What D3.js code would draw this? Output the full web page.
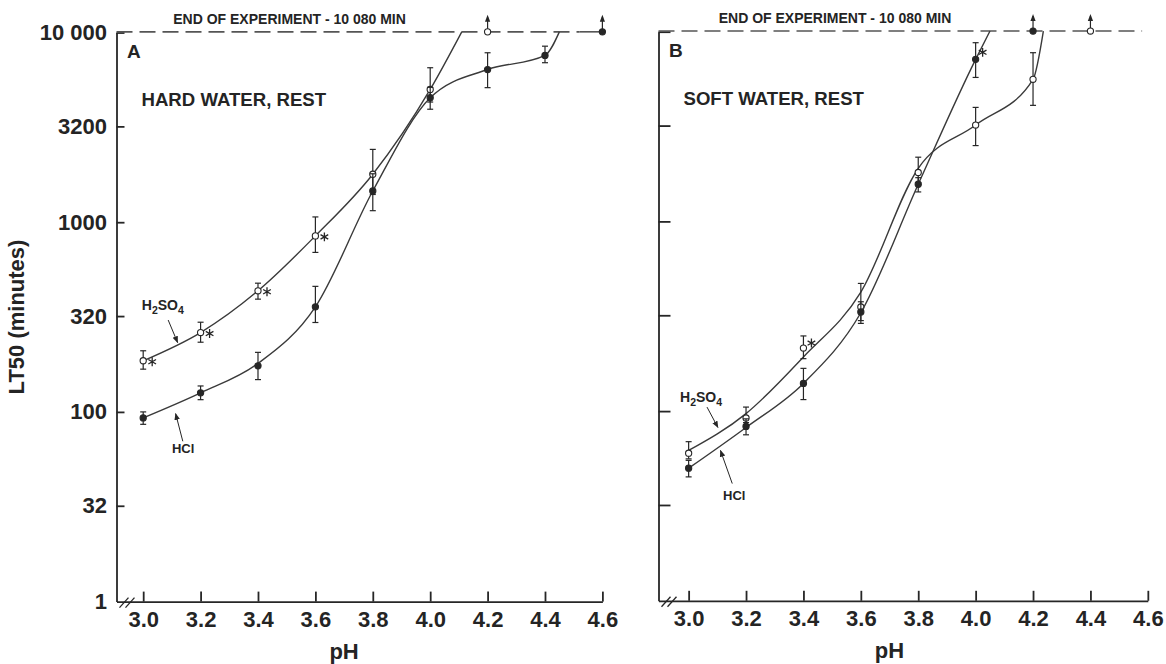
<!DOCTYPE html>
<html>
<head>
<meta charset="utf-8">
<script src="https://cdn.jsdelivr.net/npm/d3@7"></script>
<style>
  body { margin: 0; background: #fff; }
  svg text { font-family: 'Liberation Sans', Arial, Helvetica, sans-serif; font-weight: bold; fill: #242424; }
</style>
</head>
<body>
<svg id="chart" width="1166" height="664"></svg>
<script>
// ---- data ----
const phTicks = [3.0, 3.2, 3.4, 3.6, 3.8, 4.0, 4.2, 4.4, 4.6]
const lt50Ticks = [32, 100, 320, 1000, 3200, 10000]
const lt50TickLabels = ['32', '100', '320', '1000', '3200', '10 000']
const endOfExperiment = 10080

// A: hard water, rest
const hardH2so4Ph = [3.0, 3.2, 3.4, 3.6, 3.8, 4.0]
const hardH2so4 = [186, 262, 435, 847, 1790, 5010]
const hardH2so4Lo = [168, 233, 393, 693, 1400, 4300]
const hardH2so4Hi = [210, 297, 477, 1066, 2420, 6520]
const hardH2so4Fit = [186, 262, 435, 847, 1790, 5010]   // hand-drawn curve
const hardH2so4Star = [3.0, 3.2, 3.4, 3.6]
const hardH2so4Top = 4.11        // curve meets end of experiment
const hardH2so4Survived = [4.2]

const hardHclPh = [3.0, 3.2, 3.4, 3.6, 3.8, 4.0, 4.2, 4.4]
const hardHcl = [93, 126, 175, 358, 1460, 4530, 6380, 7570]
const hardHclLo = [86, 116, 148, 296, 1150, 3940, 5120, 6930]
const hardHclHi = [100, 137, 206, 459, 1800, 5140, 7820, 8470]
const hardHclFit = [93, 126, 180, 358, 1460, 4530, 6380, 7570]
const hardHclStar = []
const hardHclTop = 4.45
const hardHclSurvived = [4.6]

// B: soft water, rest
const softH2so4Ph = [3.0, 3.2, 3.4, 3.6, 3.8, 4.0, 4.2]
const softH2so4 = [60, 92, 215, 354, 1810, 3220, 5610]
const softH2so4Lo = [56, 87, 189, 300, 1600, 2510, 4090]
const softH2so4Hi = [69, 105, 249, 471, 2180, 3990, 7750]
const softH2so4Fit = [62, 97, 193, 424, 1905, 3220, 5610]
const softH2so4Star = [3.4]
const softH2so4Top = 4.236
const softH2so4Survived = [4.4]

const softHclPh = [3.0, 3.2, 3.4, 3.6, 3.8, 4.0]
const softHcl = [50, 83, 140, 333, 1570, 7150]
const softHclLo = [45, 75, 115, 290, 1430, 5740]
const softHclHi = [55, 91, 168, 377, 1700, 8750]
const softHclFit = [50, 82, 140, 330, 1570, 7150]
const softHclStar = [4.0]
const softHclTop = 4.05
const softHclSurvived = [4.2]

// ---- drawing ----
const ink = '#262626'
const lineInk = '#3a3a3a'
const svg = d3.select('#chart')

svg.append('defs').append('marker')
  .attr('id', 'head')
  .attr('viewBox', '0 0 10 10')
  .attr('refX', 9).attr('refY', 5)
  .attr('markerWidth', 7).attr('markerHeight', 7)
  .attr('markerUnits', 'userSpaceOnUse')
  .attr('orient', 'auto')
  .append('path').attr('d', 'M0,1 L10,5 L0,9 Z').attr('fill', ink)

let makeSeries = (ph, mean, lo, hi, fit, stars, top, survived, filled, starDx, starDy) => {
  return { ph, mean, lo, hi, fit, stars, top, survived, filled, starDx, starDy }
}

let chemLabel = (g, x, y, isH2so4) => {
  let t = g.append('text').attr('x', x).attr('y', y).attr('font-size', 14)
  if (isH2so4) {
    t.append('tspan').text('H')
    t.append('tspan').text('2').attr('font-size', 10.5).attr('dy', 4)
    t.append('tspan').text('SO').attr('dy', -4)
    t.append('tspan').text('4').attr('font-size', 10.5).attr('dy', 4)
  } else {
    t.attr('font-size', 13).text('HCl')
  }
}

let drawPanel = (p) => {
  let x = d3.scaleLinear().domain([p.phStart, 4.6]).range([p.left, p.left + (4.6 - p.phStart) * 287])
  let y = d3.scaleLog().domain([10, 10000]).range([p.bottom, p.top])
  let g = svg.append('g')

  // axes
  let yAxis = d3.axisLeft(y)
    .tickValues(lt50Ticks)
    .tickSizeInner(-p.tickLen)
    .tickSizeOuter(0)
    .tickPadding(9.5)
    .tickFormat((d, i) => p.showLabels ? lt50TickLabels[i] : '')
  let yg = g.append('g').attr('transform', 'translate(' + p.left + ',0)').call(yAxis)

  let xAxis = d3.axisBottom(x)
    .tickValues(phTicks)
    .tickSizeInner(-10)
    .tickSizeOuter(0)
    .tickPadding(10)
    .tickFormat(d3.format('.1f'))
  let xg = g.append('g').attr('transform', 'translate(0,' + p.bottom + ')').call(xAxis)

  ;[yg, xg].forEach((a) => {
    a.selectAll('path, line').attr('stroke', ink).attr('stroke-width', 1.8)
    a.selectAll('text').attr('font-size', 22).attr('fill', ink)
      .attr('font-family', "'Liberation Sans', Arial, sans-serif").attr('font-weight', 'bold')
  })

  if (p.showLabels) {
    g.append('text').attr('x', p.left - 9.5).attr('y', p.bottom).attr('dy', '0.35em')
      .attr('text-anchor', 'end').attr('font-size', 22).text('1')
  }

  // axis break
  ;[0, 6].forEach((o) => {
    g.append('line')
      .attr('x1', p.left + 3 + o).attr('y1', p.bottom + 6)
      .attr('x2', p.left + 12 + o).attr('y2', p.bottom - 4)
      .attr('stroke', ink).attr('stroke-width', 1.3)
  })

  g.append('text').attr('x', (x(3.6) + x(3.8)) / 2).attr('y', p.bottom + 57)
    .attr('text-anchor', 'middle').attr('font-size', 22).text('pH')

  // end of experiment
  let yTop = y(endOfExperiment)
  g.append('line')
    .attr('x1', p.left).attr('x2', x(p.dashEnd))
    .attr('y1', yTop).attr('y2', yTop)
    .attr('stroke', '#555').attr('stroke-width', 1.6)
    .attr('stroke-dasharray', '16,7')
  if (p.tail) {
    g.append('line')
      .attr('x1', x(p.tail[0])).attr('x2', x(p.tail[1]))
      .attr('y1', yTop).attr('y2', yTop)
      .attr('stroke', lineInk).attr('stroke-width', 1.4)
  }
  g.append('text').attr('x', x(3.51)).attr('y', yTop - 8)
    .attr('text-anchor', 'middle').attr('font-size', 14).text('END OF EXPERIMENT - 10 080 MIN')

  g.append('text').attr('x', p.left + 10.5).attr('y', p.top + 25).attr('font-size', 19).text(p.letter)
  g.append('text').attr('x', p.left + 25).attr('y', p.top + 73).attr('font-size', 18.6).text(p.title)

  let line = d3.line()
    .x((d) => x(d[0]))
    .y((d) => y(d[1]))
    .curve(d3.curveMonotoneX)

  p.series.forEach((s) => {
    let pts = s.ph.map((v, i) => [v, s.mean[i]])
    let fitPts = s.ph.map((v, i) => [v, s.fit[i]])
    g.append('path')
      .attr('d', line(fitPts.concat([[s.top, endOfExperiment]])))
      .attr('fill', 'none').attr('stroke', lineInk).attr('stroke-width', 1.4)

    // error bars
    s.ph.forEach((v, i) => {
      let cx = x(v)
      g.append('line').attr('x1', cx).attr('x2', cx).attr('y1', y(s.lo[i])).attr('y2', y(s.hi[i]))
        .attr('stroke', ink).attr('stroke-width', 1.2)
      ;[s.lo[i], s.hi[i]].forEach((e) => {
        g.append('line').attr('x1', cx - 3).attr('x2', cx + 3).attr('y1', y(e)).attr('y2', y(e))
          .attr('stroke', ink).attr('stroke-width', 1.2)
      })
    })

    // survivors at end of experiment
    s.survived.forEach((v) => {
      let cx = x(v)
      g.append('line').attr('x1', cx).attr('x2', cx).attr('y1', yTop).attr('y2', yTop - 15)
        .attr('stroke', ink).attr('stroke-width', 1.2)
      g.append('path')
        .attr('d', 'M' + (cx - 2.6) + ',' + (yTop - 10) + ' L' + cx + ',' + (yTop - 17) + ' L' + (cx + 2.6) + ',' + (yTop - 10) + ' Z')
        .attr('fill', ink)
      pts.push([v, endOfExperiment])
    })

    g.selectAll(null).data(pts).enter().append('circle')
      .attr('cx', (d) => x(d[0]))
      .attr('cy', (d) => y(d[1]))
      .attr('r', 3.1)
      .attr('fill', s.filled ? ink : '#fff')
      .attr('stroke', ink).attr('stroke-width', 1.1)

    s.stars.forEach((v) => {
      let i = s.ph.indexOf(v)
      g.append('path')
        .attr('d', d3.symbol(d3.symbolAsterisk, 55)())
        .attr('transform', 'translate(' + (x(v) + s.starDx) + ',' + (y(s.mean[i]) + s.starDy) + ')')
        .attr('fill', 'none').attr('stroke', ink).attr('stroke-width', 1.3)
    })
  })

  // curve labels with pointers
  p.labels.forEach((l) => {
    chemLabel(g, x(l.at[0]), y(l.at[1]), l.h2so4)
    g.append('line')
      .attr('x1', x(l.from[0])).attr('y1', y(l.from[1]))
      .attr('x2', x(l.to[0])).attr('y2', y(l.to[1]))
      .attr('stroke', ink).attr('stroke-width', 1)
      .attr('marker-end', 'url(#head)')
  })
}

drawPanel({
  letter: 'A', title: 'HARD WATER, REST',
  left: 116.5, top: 32.5, bottom: 601.6, phStart: 2.907, tickLen: 8, showLabels: true,
  dashEnd: 4.52, tail: [4.52, 4.6],
  series: [
    makeSeries(hardH2so4Ph, hardH2so4, hardH2so4Lo, hardH2so4Hi, hardH2so4Fit, hardH2so4Star, hardH2so4Top, hardH2so4Survived, false, 9, 1),
    makeSeries(hardHclPh, hardHcl, hardHclLo, hardHclHi, hardHclFit, hardHclStar, hardHclTop, hardHclSurvived, true, 9, 1)
  ],
  labels: [
    { h2so4: true, at: [2.995, 345], from: [3.087, 305], to: [3.12, 232] },
    { h2so4: false, at: [3.1, 61], from: [3.138, 70], to: [3.113, 98] }
  ]
})

drawPanel({
  letter: 'B', title: 'SOFT WATER, REST',
  left: 658.5, top: 31.7, bottom: 600.8, phStart: 2.895, tickLen: 12, showLabels: false,
  dashEnd: 4.58, tail: null,
  series: [
    makeSeries(softH2so4Ph, softH2so4, softH2so4Lo, softH2so4Hi, softH2so4Fit, softH2so4Star, softH2so4Top, softH2so4Survived, false, 8, -5),
    makeSeries(softHclPh, softHcl, softHclLo, softHclHi, softHclFit, softHclStar, softHclTop, softHclSurvived, true, 7, -7)
  ],
  labels: [
    { h2so4: true, at: [2.97, 112], from: [3.064, 105], to: [3.102, 82] },
    { h2so4: false, at: [3.12, 34], from: [3.152, 41.5], to: [3.111, 62] }
  ]
})

svg.append('text')
  .attr('transform', 'translate(24,317) rotate(-90)')
  .attr('text-anchor', 'middle').attr('font-size', 22)
  .text('LT50 (minutes)')
</script>
</body>
</html>
